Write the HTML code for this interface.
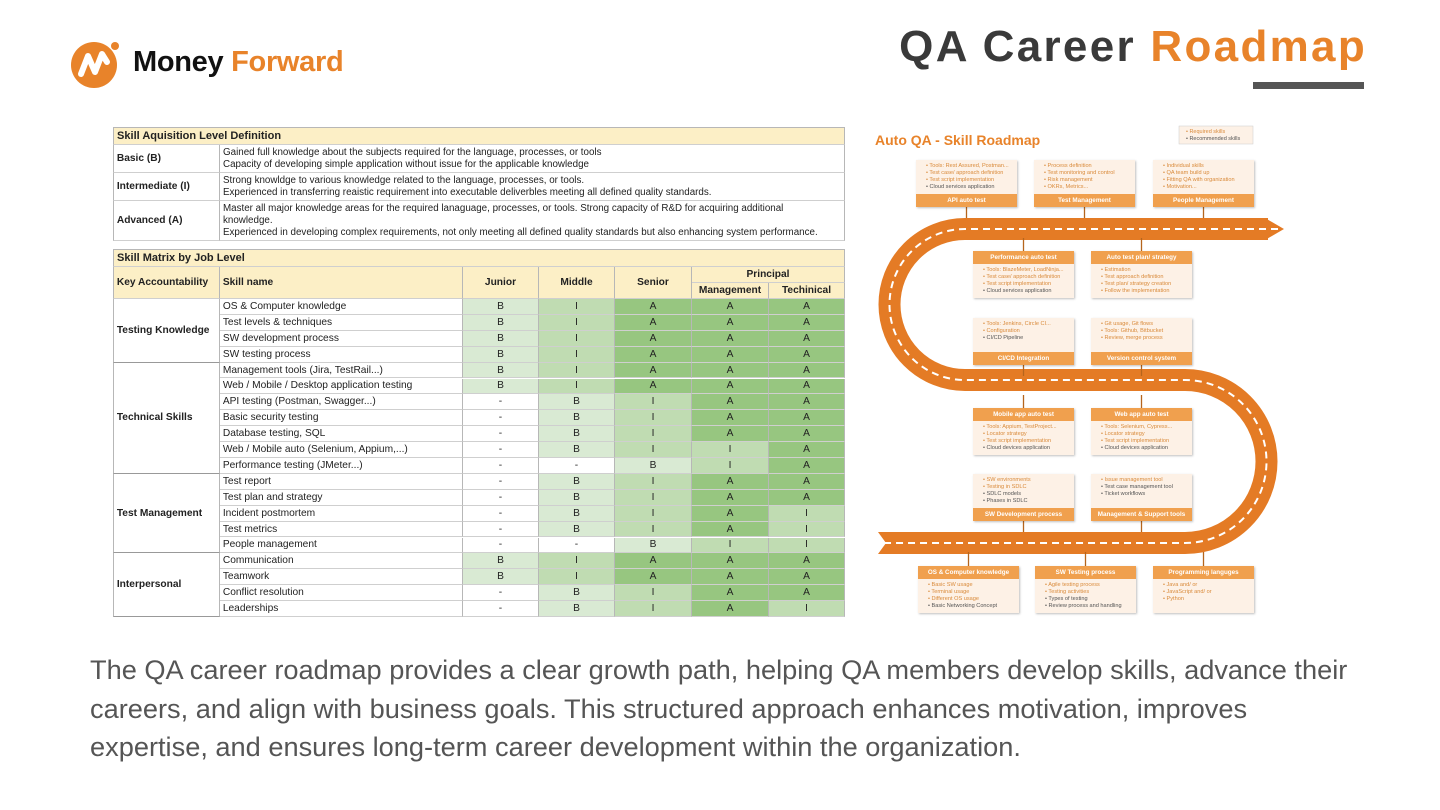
<!DOCTYPE html>
<html><head><meta charset="utf-8">
<style>
*{margin:0;padding:0;box-sizing:border-box}
body{width:1440px;height:810px;background:#fff;position:relative;overflow:hidden;font-family:"Liberation Sans",Arial,sans-serif}
.abs{position:absolute}
.cell{position:absolute;border-right:1px solid #b7b7b7;border-bottom:1px solid #cfcfcf;font-size:10.2px;color:#222;display:flex;align-items:center;white-space:nowrap;overflow:hidden}
.ttl{background:#fcefc6;font-weight:bold;font-size:11px}
.hd{background:#fcefc6;font-weight:bold;justify-content:center}
.ctr{justify-content:center}
.rbox{position:absolute;width:101px;background:#fdf1e6;box-shadow:1px 1px 2px rgba(0,0,0,.25)}
.rhd{position:absolute;left:0;width:101px;height:13px;background:#f0a04e;color:#fff;font-weight:bold;font-size:6.3px;text-align:center;line-height:13px}
.rbody{position:absolute;left:10px;font-size:5.6px;line-height:6.9px;color:#d98a3a;white-space:nowrap}
.rbody .g{color:#555}
</style></head><body>
<div class="abs" style="left:71px;top:40px;width:280px;height:50px">
 <svg width="50" height="50" style="position:absolute;left:0;top:0">
  <circle cx="23" cy="25" r="23" fill="#e8832a"/>
  <circle cx="44" cy="6" r="4" fill="#e8832a"/>
  <path d="M10 34 L17 16 L24 32 L31 14 L36 22" stroke="#fff" stroke-width="6" fill="none" stroke-linejoin="round" stroke-linecap="round"/>
 </svg>
 <div class="abs" style="left:62px;top:6px;font-size:29px;font-weight:bold;color:#111;white-space:nowrap;letter-spacing:-0.3px">Money <span style="color:#e8832a">Forward</span></div>
</div>
<div class="abs" style="right:73px;top:22px;font-size:44px;font-weight:bold;color:#3a3a3a;white-space:nowrap;letter-spacing:2.3px">QA Career <span style="color:#e8832a">Roadmap</span></div>
<div class="abs" style="left:1253px;top:82px;width:111px;height:7px;background:#555"></div>

<div id="table" class="abs" style="left:0;top:0"></div>

<svg class="abs" style="left:0;top:0" width="1440" height="810">
 <g>
  <path d="M1268 229 L965 229 A75.5 75.5 0 0 0 965 380 L1185 380 A81.5 81.5 0 0 1 1185 543 L890 543" stroke="#e47b25" stroke-width="22" fill="none"/>
  <polygon points="1265,218 1284,229 1265,240" fill="#e47b25"/>
  <polygon points="892,532 878,532 886,543 878,554 892,554" fill="#e47b25"/>
  <path d="M1278 229 L965 229 A75.5 75.5 0 0 0 965 380 L1185 380 A81.5 81.5 0 0 1 1185 543 L885 543" stroke="#fff" stroke-width="2" stroke-dasharray="7 5" fill="none"/>
 </g>
 <text x="875" y="145" font-family="Liberation Sans" font-weight="bold" font-size="14" fill="#e8832a">Auto QA - Skill Roadmap</text>
 <rect x="1179" y="126" width="74" height="18" fill="#fdf1e6" stroke="#ccc" stroke-width="0.5"/>
 <text x="1186" y="133" font-family="Liberation Sans" font-size="5.5" fill="#d98a3a">• Required skills</text>
 <text x="1186" y="140" font-family="Liberation Sans" font-size="5.5" fill="#555">• Recommended skills</text>
 <g id="conn" stroke="#b5651d" stroke-width="1.3"></g>
</svg>
<div id="boxes"></div>

<div class="abs" style="left:90px;top:651px;width:1275px;font-size:27.2px;line-height:38.5px;color:#555">The QA career roadmap provides a clear growth path, helping QA members develop skills, advance their careers, and align with business goals. This structured approach enhances motivation, improves expertise, and ensures long-term career development within the organization.</div>

<script>
const groups=["Testing Knowledge","Technical Skills","Test Management","Interpersonal"];
const groupSizes=[4,7,5,4];
const skills=["OS & Computer knowledge","Test levels & techniques","SW development process","SW testing process","Management tools (Jira, TestRail...)","Web / Mobile / Desktop application testing","API testing (Postman, Swagger...)","Basic security testing","Database testing, SQL","Web / Mobile auto (Selenium, Appium,...)","Performance testing (JMeter...)","Test report","Test plan and strategy","Incident postmortem","Test metrics","People management","Communication","Teamwork","Conflict resolution","Leaderships"];
const junior=["B","B","B","B","B","B","-","-","-","-","-","-","-","-","-","-","B","B","-","-"];
const middle=["I","I","I","I","I","I","B","B","B","B","-","B","B","B","B","-","I","I","B","B"];
const senior=["A","A","A","A","A","A","I","I","I","I","B","I","I","I","I","B","A","A","I","I"];
const management=["A","A","A","A","A","A","A","A","A","I","I","A","A","A","A","I","A","A","A","A"];
const technical=["A","A","A","A","A","A","A","A","A","A","A","A","A","I","I","I","A","A","A","I"];
const defLevels=["Basic (B)","Intermediate (I)","Advanced (A)"];
const defTexts=["Gained full knowledge about the subjects required for the language, processes, or tools<br>Capacity of developing simple application without issue for the applicable knowledge","Strong knowldge to various knowledge related to the language, processes, or tools.<br>Experienced in transferring reaistic requirement into executable deliverbles meeting all defined quality standards.","Master all major knowledge areas for the required lanaguage, processes, or tools. Strong capacity of R&amp;D for acquiring additional<br>knowledge.<br>Experienced in developing complex requirements, not only meeting all defined quality standards but also enhancing system performance."];
const gradeColor={"B":"#d9ead3","I":"#c0dcb2","A":"#97c680","-":"#fff"};
const T=document.getElementById('table');
const X=[113,220,463,539,615,692,769,845];
function cell(x,y,w,h,html,cls,name){const d=document.createElement('div');d.className='cell '+(cls||'');d.style.left=x+'px';d.style.top=y+'px';d.style.width=w+'px';d.style.height=h+'px';d.innerHTML=html;


T.appendChild(d);return d;}
let c=cell(113,127,732,18,'&nbsp;Skill Aquisition Level Definition','ttl','definition-title');c.style.borderLeft='1px solid #b7b7b7';c.style.borderTop='1px solid #b7b7b7';
const defY=[145,173,201,241];
for(let i=0;i<3;i++){const h=defY[i+1]-defY[i];
 let a=cell(113,defY[i],107,h,'&nbsp;'+defLevels[i],'','level-name');a.style.fontWeight='bold';a.style.borderLeft='1px solid #b7b7b7';
 let b=cell(220,defY[i],625,h,defTexts[i],'','level-description');b.style.padding='0 3px';b.style.whiteSpace='normal';b.style.lineHeight='12px';b.style.fontSize='9.8px';}
c=cell(113,249,732,18,'&nbsp;Skill Matrix by Job Level','ttl','matrix-title');c.style.borderLeft='1px solid #b7b7b7';c.style.borderTop='1px solid #b7b7b7';
c=cell(113,267,107,32,'&nbsp;Key Accountability','hd','header-key');c.style.justifyContent='flex-start';c.style.borderLeft='1px solid #b7b7b7';
c=cell(220,267,243,32,'&nbsp;Skill name','hd','header-skill');c.style.justifyContent='flex-start';
cell(463,267,76,32,'Junior','hd','header-junior');cell(539,267,76,32,'Middle','hd','header-middle');cell(615,267,77,32,'Senior','hd','header-senior');
cell(692,267,153,16,'Principal','hd','header-principal');cell(692,283,77,16,'Management','hd','header-management');cell(769,283,76,16,'Techinical','hd','header-technical');
const rowH=(617-299)/20;
const cols=[junior,middle,senior,management,technical];
let r=0;
groups.forEach((g,gi)=>{
 let k=cell(113,299+r*rowH,107,groupSizes[gi]*rowH,'&nbsp;'+g,'','group-'+gi);k.style.fontWeight='bold';k.style.borderLeft='1px solid #b7b7b7';k.style.borderBottom='1px solid #999';
 for(let j=0;j<groupSizes[gi];j++,r++){
  const y=299+r*rowH;
  let s=cell(220,y,243,rowH,'&nbsp;'+skills[r],'','skill-name');
  cols.forEach((col,ci)=>{let v=col[r];let e=cell(X[ci+2],y,X[ci+3]-X[ci+2],rowH,v,'ctr','grade-cell');e.style.background=gradeColor[v];});
 }
});
const boxes=[
 {t:"API auto test",x:916,y:160,top:false,items:["Tools: Rest Assured, Postman...","Test case/ approach definition","Test script implementation","~Cloud services application"]},
 {t:"Test Management",x:1034,y:160,top:false,items:["Process definition","Test monitoring and control","Risk management","OKRs, Metrics..."]},
 {t:"People Management",x:1153,y:160,top:false,items:["Individual skills","QA team build up","Fitting QA with organization","Motivation..."]},
 {t:"Performance auto test",x:973,y:251,top:true,items:["Tools: BlazeMeter, LoadNinja...","Test case/ approach definition","Test script implementation","~Cloud services application"]},
 {t:"Auto test plan/ strategy",x:1091,y:251,top:true,items:["Estimation","Test approach definition","Test plan/ strategy creation","Follow the implementation"]},
 {t:"CI/CD Integration",x:973,y:318,top:false,items:["Tools: Jenkins, Circle CI...","Configuration","~CI/CD Pipeline"]},
 {t:"Version control system",x:1091,y:318,top:false,items:["Git usage, Git flows","Tools: Github, Bitbucket","Review, merge process"]},
 {t:"Mobile app auto test",x:973,y:408,top:true,items:["Tools: Appium, TestProject...","Locator strategy","Test script implementation","~Cloud devices application"]},
 {t:"Web app auto test",x:1091,y:408,top:true,items:["Tools: Selenium, Cypress...","Locator strategy","Test script implementation","~Cloud devices application"]},
 {t:"SW Development process",x:973,y:474,top:false,items:["SW environments","Testing in SDLC","~SDLC models","~Phases in SDLC"]},
 {t:"Management & Support tools",x:1091,y:474,top:false,items:["Issue management tool","~Test case management tool","~Ticket workflows"]},
 {t:"OS & Computer knowledge",x:918,y:566,top:true,items:["Basic SW usage","Terminal usage","Different OS usage","~Basic Networking Concept"]},
 {t:"SW Testing process",x:1035,y:566,top:true,items:["Agile testing process","Testing activities","~Types of testing","~Review process and handling"]},
 {t:"Programming languges",x:1153,y:566,top:true,items:["Java and/ or","JavaScript and/ or","Python"]}
];
const B=document.getElementById('boxes');const C=document.getElementById('conn');
boxes.forEach(b=>{
 const d=document.createElement('div');d.className='rbox';d.style.left=b.x+'px';d.style.top=b.y+'px';d.style.height='47px';
 
 
 const h=document.createElement('div');h.className='rhd';h.style.top=(b.top?0:34)+'px';h.textContent=b.t;d.appendChild(h);
 const bd=document.createElement('div');bd.className='rbody';bd.style.top=(b.top?16:3)+'px';
 bd.innerHTML=b.items.map(s=>s[0]=='~'?'<div class="g">• '+s.slice(1)+'</div>':'<div>• '+s+'</div>').join('');
 d.appendChild(h);d.appendChild(bd);B.appendChild(d);
 const ln=document.createElementNS('http://www.w3.org/2000/svg','line');const cx=b.x+50.5;
 let y1,y2; if(b.top){y2=b.y;y1=b.y-(b.y>500?14:13);}else{y1=b.y+47;y2=b.y+58;}
 ln.setAttribute('x1',cx);ln.setAttribute('x2',cx);ln.setAttribute('y1',y1);ln.setAttribute('y2',y2);
 
 
 C.appendChild(ln);
});
</script>
</body></html>
